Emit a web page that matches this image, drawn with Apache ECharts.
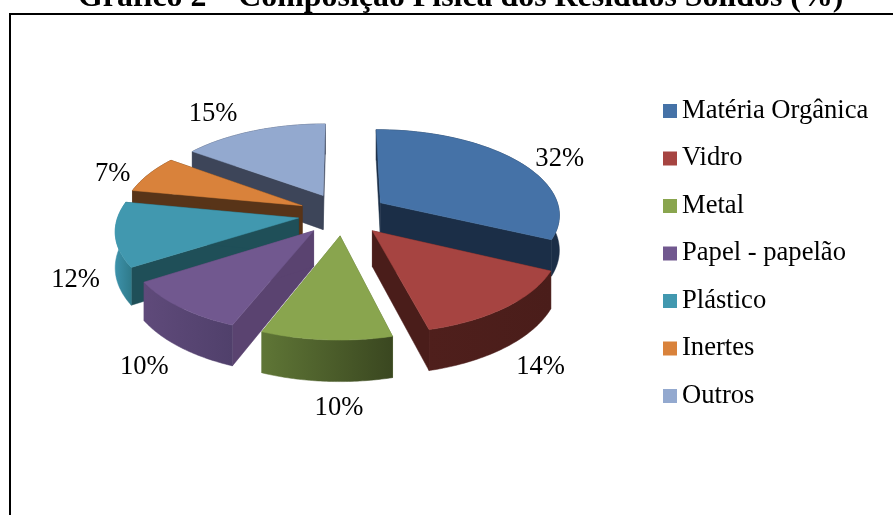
<!DOCTYPE html>
<html>
<head>
<meta charset="utf-8">
<style>
  html, body { margin: 0; padding: 0; background: #fff; }
  #chart { width: 893px; height: 515px; }
</style>
</head>
<body>
<div id="chart"></div>
<script src="https://cdn.jsdelivr.net/npm/echarts@6/dist/echarts.min.js"></script>
<script>
const categories = ["Matéria Orgânica", "Vidro", "Metal", "Papel - papelão", "Plástico", "Inertes", "Outros"]
const values = [32, 14, 10, 10, 12, 7, 15]
const topColors = ["#4572a7", "#a64441", "#89a54e", "#71588f", "#4198af", "#d9823b", "#93a9cf"]
const sideColors = ["#1b2e47", "#4a1d1a", "#5d7334", "#5a4370", "#1f4f58", "#583418", "#3d4559"]
const rimColors = [
  ["#1b2e47", "#1b2e47"],
  ["#4f1f1c", "#4a1d1a"],
  ["#5f7636", "#3a4720"],
  ["#5f4a7a", "#50406b"],
  ["#3d92ab", "#2f7a8a"],
  ["#583418", "#583418"],
  ["#3d4559", "#3d4559"],
]
// 百分比标签相对默认位置的微调
const labelNudge = [[16, 5], [4, 2], [16, 1], [-5, 2], [-2, 6], [-7, 6], [-28, -6]]

// 透视饼图的投影参数
const cx = 343
const cy = 214
const radius = 180
const radiusY = 85
const depth = 35
const perspective = 0.126
const explode = 0.25
const labelRadius = 1.2

const total = values.reduce((a, b) => a + b, 0)

const project = (x, y, z) => {
  const w = 1 - perspective * y
  return [cx + (radius * x) / w, cy + (radiusY * y) / w + (depth * z) / w]
}

const sliceAngles = (index) => {
  const before = values.slice(0, index).reduce((a, b) => a + b, 0)
  const start = (before / total) * Math.PI * 2
  const end = ((before + values[index]) / total) * Math.PI * 2
  return { start, end, mid: (start + end) / 2 }
}

const renderSlice = (index) => (params, api) => {
  const { start, end, mid } = sliceAngles(index)
  const ox = explode * Math.sin(mid)
  const oy = -explode * Math.cos(mid)
  const rim = []
  const steps = 48
  for (let i = 0; i <= steps; i++) {
    const a = start + ((end - start) * i) / steps
    rim.push([ox + Math.sin(a), oy - Math.cos(a)])
  }
  const level = (pts, z) => pts.map((p) => project(p[0], p[1], z))
  const rimTop = level(rim, 0)
  const rimBottom = level(rim, 1)
  const apexTop = project(ox, oy, 0)
  const apexBottom = project(ox, oy, 1)
  const poly = (points, fill, z2) => ({
    type: "polygon",
    z2,
    shape: { points },
    style: { fill, stroke: fill, lineWidth: 0.5 },
  })
  const side = sideColors[index]
  const lx = ox + labelRadius * Math.sin(mid)
  const ly = oy - labelRadius * Math.cos(mid)
  const labelPos = project(lx, ly, ly > 0 ? 1 : 0)
  return {
    type: "group",
    children: [
      poly([apexTop, rimTop[0], rimBottom[0], apexBottom], side, 1),
      poly([apexTop, rimTop[steps], rimBottom[steps], apexBottom], side, 1),
      poly(
        rimTop.concat(rimBottom.slice().reverse()),
        new echarts.graphic.LinearGradient(0, 0, 1, 0, [
          { offset: 0, color: rimColors[index][0] },
          { offset: 1, color: rimColors[index][1] },
        ]),
        2
      ),
      poly([apexTop].concat(rimTop), topColors[index], 3),
      {
        type: "text",
        z2: 4,
        x: labelPos[0] + labelNudge[index][0],
        y: labelPos[1] + labelNudge[index][1],
        style: {
          text: api.value(0) + "%",
          fill: "#000",
          font: '26.6px "Liberation Serif"',
          align: "center",
          verticalAlign: "middle",
        },
      },
    ],
  }
}

// 从后往前绘制，靠前的扇区压住靠后的扇区
const drawOrder = categories
  .map((_, i) => i)
  .sort((a, b) => Math.cos(sliceAngles(b).mid) - Math.cos(sliceAngles(a).mid))

const myChart = echarts.init(document.getElementById("chart"))
myChart.setOption({
  animation: false,
  backgroundColor: "#fff",
  title: {
    text: "Gráfico 2 – Composição Física dos Resíduos Sólidos (%)",
    left: 78,
    top: -18,
    padding: 0,
    textStyle: {
      fontFamily: "Liberation Serif",
      fontWeight: "bold",
      fontSize: 31.9,
      color: "#000",
    },
  },
  legend: {
    orient: "vertical",
    left: 663,
    top: 97.5,
    padding: 0,
    itemWidth: 14,
    itemHeight: 14,
    itemGap: 20.5,
    icon: "rect",
    selectedMode: false,
    data: categories,
    textStyle: {
      fontFamily: "Liberation Serif",
      fontSize: 26.6,
      color: "#000",
      padding: [6, 0, 0, 0],
    },
  },
  graphic: [
    {
      type: "rect",
      z: 0,
      shape: { x: 10, y: 14, width: 900, height: 520 },
      style: { fill: "none", stroke: "#000", lineWidth: 2 },
    },
  ],
  series: categories.map((name, i) => ({
    type: "custom",
    name,
    coordinateSystem: "none",
    z: 2 + drawOrder.indexOf(i),
    itemStyle: { color: topColors[i] },
    renderItem: renderSlice(i),
    data: [[values[i]]],
  })),
})
</script>
</body>
</html>
